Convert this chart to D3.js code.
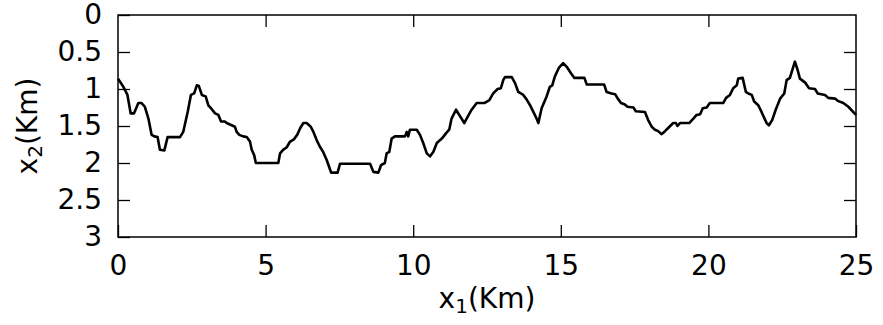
<!DOCTYPE html>
<html>
<head>
<meta charset="utf-8">
<script src="https://cdn.jsdelivr.net/npm/d3@7"></script>
<style>
  body { margin: 0; background: #fff; }
  text { font-family: "DejaVu Sans", sans-serif; fill: #000; }
</style>
</head>
<body>
<svg id="chart"></svg>
<script>
// x1 (km) and x2 (km)
const x1 = [0, 0.18, 0.32, 0.43, 0.54, 0.69, 0.80, 0.91, 1.03, 1.14, 1.23, 1.34, 1.42, 1.57, 1.68, 2.10, 2.21, 2.36, 2.47, 2.58,
  2.67, 2.74, 2.84, 2.97, 3.06, 3.17, 3.29, 3.40, 3.49, 3.62, 3.68, 3.85, 3.96, 4.02, 4.11, 4.24, 4.36, 4.47, 4.53, 4.61,
  4.67, 5.43, 5.49, 5.60, 5.71, 5.83, 5.96, 6.07, 6.17, 6.28, 6.39, 6.53, 6.62, 6.73, 6.84, 6.95, 7.07, 7.15, 7.22, 7.44,
  7.52, 8.54, 8.65, 8.82, 8.91, 9.04, 9.10, 9.19, 9.27, 9.38, 9.72, 9.78, 9.83, 9.89, 10.12, 10.23, 10.34, 10.46, 10.57, 10.68,
  10.80, 10.97, 11.13, 11.22, 11.30, 11.45, 11.59, 11.73, 11.81, 11.98, 12.15, 12.41, 12.58, 12.71, 12.86, 12.97, 13.05, 13.11, 13.34, 13.45,
  13.56, 13.73, 13.84, 13.96, 14.07, 14.18, 14.24, 14.35, 14.52, 14.63, 14.71, 14.80, 14.94, 15.08, 15.20, 15.35, 15.46, 15.80, 15.88, 16.47,
  16.55, 16.72, 16.84, 16.93, 17.04, 17.17, 17.26, 17.46, 17.54, 17.85, 17.96, 18.08, 18.19, 18.30, 18.42, 18.53, 18.68, 18.81, 18.90, 18.95,
  19.04, 19.35, 19.49, 19.60, 19.72, 19.81, 19.94, 20.05, 20.50, 20.60, 20.73, 20.84, 20.96, 21.01, 21.16, 21.27, 21.35, 21.47, 21.55, 21.69,
  21.80, 21.89, 21.97, 22.05, 22.16, 22.28, 22.43, 22.57, 22.65, 22.76, 22.93, 23.02, 23.10, 23.27, 23.41, 23.61, 23.70, 23.95, 24.06, 24.29,
  24.38, 24.57, 24.74, 25];
const x2 = [0.86, 0.97, 1.08, 1.33, 1.33, 1.19, 1.19, 1.24, 1.40, 1.62, 1.64, 1.65, 1.82, 1.83, 1.65, 1.65, 1.58, 1.31, 1.08, 1.06,
  0.95, 0.96, 1.08, 1.10, 1.22, 1.27, 1.33, 1.35, 1.44, 1.44, 1.46, 1.49, 1.51, 1.58, 1.62, 1.64, 1.65, 1.71, 1.82, 1.89,
  2.00, 2.00, 1.87, 1.82, 1.79, 1.71, 1.68, 1.62, 1.53, 1.46, 1.46, 1.51, 1.58, 1.69, 1.78, 1.85, 1.96, 2.05, 2.13, 2.13,
  2.01, 2.01, 2.12, 2.13, 2.03, 2.00, 1.87, 1.85, 1.67, 1.64, 1.64, 1.58, 1.64, 1.55, 1.55, 1.62, 1.73, 1.87, 1.91, 1.85,
  1.73, 1.67, 1.59, 1.55, 1.40, 1.28, 1.37, 1.46, 1.40, 1.28, 1.19, 1.19, 1.15, 1.06, 1.00, 0.99, 0.88, 0.84, 0.84, 0.92,
  1.04, 1.08, 1.14, 1.22, 1.31, 1.40, 1.46, 1.26, 1.10, 0.97, 0.95, 0.83, 0.71, 0.65, 0.70, 0.79, 0.85, 0.85, 0.94, 0.94,
  1.04, 1.06, 1.07, 1.13, 1.19, 1.21, 1.24, 1.25, 1.30, 1.31, 1.42, 1.51, 1.55, 1.57, 1.61, 1.57, 1.51, 1.46, 1.46, 1.50,
  1.46, 1.46, 1.40, 1.35, 1.34, 1.26, 1.25, 1.19, 1.19, 1.12, 1.08, 0.99, 0.95, 0.86, 0.85, 1.04, 1.06, 1.08, 1.17, 1.22,
  1.31, 1.39, 1.46, 1.49, 1.42, 1.28, 1.13, 1.06, 0.88, 0.85, 0.63, 0.74, 0.86, 0.91, 0.99, 1.00, 1.06, 1.08, 1.12, 1.13,
  1.16, 1.19, 1.24, 1.35];
const xTicks = [0, 5, 10, 15, 20, 25];
const yTicks = [0, 0.5, 1, 1.5, 2, 2.5, 3];

const margin = { top: 15, right: 27, bottom: 88, left: 118 };
const width = 883 - margin.left - margin.right;
const height = 325 - margin.top - margin.bottom;
const tick = 12;
const fs = 28;

const svg = d3.select("#chart")
  .attr("width", 883)
  .attr("height", 325)
  .append("g")
  .attr("transform", "translate(" + margin.left + "," + margin.top + ")");

const x = d3.scaleLinear().domain([0, 25]).range([0, width]);
const y = d3.scaleLinear().domain([0, 3]).range([0, height]); // depth grows downward

// bottom / left axes with labels, ticks pointing inward
svg.append("g")
  .attr("transform", "translate(0," + height + ")")
  .call(d3.axisBottom(x).tickValues(xTicks).tickFormat(d3.format("d"))
    .tickSizeInner(-tick).tickSizeOuter(0).tickPadding(18));
svg.append("g")
  .call(d3.axisLeft(y).tickValues(yTicks).tickFormat(d => d)
    .tickSizeInner(-tick).tickSizeOuter(0).tickPadding(16));
// mirror ticks on top / right
svg.append("g")
  .call(d3.axisTop(x).tickValues(xTicks.slice(1, -1)).tickFormat("")
    .tickSizeInner(-tick).tickSizeOuter(0));
svg.append("g")
  .attr("transform", "translate(" + width + ",0)")
  .call(d3.axisRight(y).tickValues(yTicks.slice(1, -1)).tickFormat("")
    .tickSizeInner(-tick).tickSizeOuter(0));

svg.selectAll(".domain").remove();
svg.selectAll(".tick line").attr("stroke", "#000").attr("stroke-width", 1.3);
svg.selectAll(".tick text").attr("font-size", fs).attr("font-family", "DejaVu Sans").attr("fill", "#000");

svg.append("rect")
  .attr("width", width).attr("height", height)
  .attr("fill", "none").attr("stroke", "#000").attr("stroke-width", 1.5);

const line = d3.line().x((d, i) => x(x1[i])).y(d => y(d));
svg.append("path")
  .datum(x2)
  .attr("d", line)
  .attr("fill", "none")
  .attr("stroke", "#000")
  .attr("stroke-width", 2.6)
  .attr("stroke-linejoin", "round");

// axis titles
const xl = svg.append("text")
  .attr("x", width / 2).attr("y", height + 71)
  .attr("text-anchor", "middle").attr("font-size", fs);
xl.append("tspan").text("x");
xl.append("tspan").attr("font-size", 20).attr("dy", 5).text("1");
xl.append("tspan").attr("dy", -5).text("(Km)");

const yl = svg.append("text")
  .attr("transform", "translate(" + (37 - margin.left) + "," + (height / 2) + ") rotate(-90)")
  .attr("text-anchor", "middle").attr("font-size", fs);
yl.append("tspan").text("x");
yl.append("tspan").attr("font-size", 20).attr("dy", 5).text("2");
yl.append("tspan").attr("dy", -5).text("(Km)");
</script>
</body>
</html>
